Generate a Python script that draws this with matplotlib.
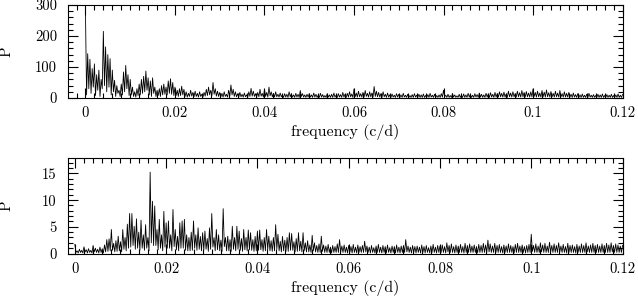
import numpy as np
import matplotlib
matplotlib.use("Agg")
import matplotlib.pyplot as plt
from matplotlib.ticker import MultipleLocator

freq_step = 0.00025

# Upper periodogram (P), one value per 0.00025 c/d, rows of 0.005 c/d
top_power = [
    280, 10, 143, 30, 125, 15, 95, 35, 110, 8, 75, 25, 90, 5, 60, 30, 215, 40, 165, 20,
    140, 35, 127, 10, 90, 20, 57, 5, 40, 15, 25, 5, 45, 10, 84, 20, 105, 30, 75, 8,
    60, 10, 35, 5, 20, 3, 30, 8, 45, 10, 60, 15, 70, 20, 87, 25, 65, 10, 55, 5,
    65, 15, 35, 5, 25, 8, 30, 5, 40, 10, 45, 12, 35, 10, 55, 15, 62, 12, 50, 8,
    35, 8, 25, 5, 30, 8, 38, 10, 28, 5, 20, 3, 15, 5, 25, 6, 18, 4, 22, 5,
    15, 3, 20, 5, 12, 3, 18, 6, 28, 8, 35, 10, 25, 8, 50, 12, 30, 6, 22, 5,
    18, 4, 15, 3, 20, 5, 12, 3, 25, 6, 42, 10, 28, 5, 20, 4, 14, 3, 18, 4,
    12, 3, 16, 4, 10, 2, 20, 5, 31, 6, 22, 5, 14, 3, 18, 4, 28, 6, 15, 3,
    28, 5, 18, 3, 35, 7, 20, 4, 15, 3, 20, 4, 12, 3, 16, 4, 10, 2, 14, 3,
    12, 2, 20, 4, 14, 3, 10, 2, 15, 3, 12, 2, 24, 5, 14, 3, 10, 2, 12, 3,
    14, 3, 10, 2, 16, 3, 12, 2, 9, 2, 15, 3, 11, 2, 8, 2, 13, 3, 10, 2,
    12, 2, 16, 3, 9, 2, 14, 3, 11, 2, 18, 3, 12, 2, 15, 3, 20, 4, 13, 2,
    29, 4, 16, 3, 22, 4, 14, 3, 18, 3, 24, 5, 15, 3, 20, 4, 16, 3, 37, 5,
    22, 4, 18, 3, 14, 2, 20, 4, 12, 2, 16, 3, 10, 2, 13, 3, 9, 2, 14, 3,
    12, 2, 10, 2, 15, 3, 9, 2, 12, 2, 8, 2, 11, 2, 14, 3, 9, 2, 12, 2,
    10, 2, 13, 2, 8, 2, 11, 2, 15, 3, 9, 2, 12, 2, 8, 2, 10, 2, 14, 3,
    25, 4, 9, 2, 12, 2, 8, 2, 14, 3, 10, 2, 7, 2, 12, 2, 9, 2, 13, 2,
    10, 2, 15, 3, 12, 2, 9, 2, 14, 3, 11, 2, 16, 3, 12, 2, 10, 2, 15, 3,
    13, 2, 17, 3, 12, 2, 18, 3, 14, 3, 20, 4, 15, 3, 19, 3, 13, 2, 22, 4,
    16, 3, 20, 4, 14, 3, 22, 4, 17, 3, 24, 4, 18, 3, 21, 4, 16, 3, 20, 4,
    29, 5, 18, 3, 22, 4, 16, 3, 24, 4, 19, 3, 26, 4, 17, 3, 21, 4, 15, 3,
    22, 4, 16, 3, 24, 4, 14, 3, 20, 3, 15, 3, 18, 3, 12, 2, 16, 3, 11, 2,
    14, 2, 10, 2, 13, 2, 9, 2, 12, 2, 15, 3, 9, 2, 11, 2, 8, 2, 12, 2,
    10, 2, 13, 2, 8, 2, 11, 2, 9, 2, 12, 2, 8, 2, 10, 2, 13, 2, 9, 2,
    11,
]

# Lower periodogram (P), same frequency grid
bottom_power = [
    1.7, 0.2, 0.5, 0.1, 0.8, 0.2, 0.6, 0.1, 1.25, 0.3, 0.7, 0.1, 0.9, 0.2, 0.6, 0.1, 1.5, 0.3, 1.0, 0.2,
    0.8, 0.1, 1.2, 0.2, 0.9, 0.1, 1.6, 0.3, 2.6, 0.4, 2.75, 0.5, 4.5, 0.6, 1.9, 0.3, 2.4, 0.4, 3.25, 0.5,
    2.2, 0.3, 4.5, 0.8, 3.0, 0.5, 5.5, 1.0, 7.5, 1.2, 7.5, 1.5, 5.1, 0.8, 6.5, 1.0, 4.0, 0.6, 6.25, 1.0,
    3.5, 0.6, 5.4, 1.0, 3.0, 0.5, 15.25, 2.0, 9.8, 1.5, 8.9, 1.5, 4.5, 0.7, 6.4, 1.0, 3.5, 0.5, 7.9, 1.2,
    5.75, 1.0, 6.1, 1.0, 3.5, 0.5, 8.25, 1.3, 4.5, 0.7, 3.2, 0.5, 5.75, 1.0, 6.1, 1.0, 6.4, 0.6, 3.5, 0.5,
    3.0, 0.5, 4.0, 0.6, 6.1, 1.0, 3.5, 0.6, 4.8, 0.8, 3.2, 0.5, 3.9, 0.6, 4.2, 0.8, 2.8, 0.4, 4.8, 0.8,
    7.5, 1.2, 3.0, 0.5, 4.5, 0.7, 3.5, 0.5, 2.5, 0.4, 8.4, 1.3, 3.0, 0.5, 3.25, 0.5, 2.6, 0.4, 5.1, 0.8,
    3.0, 0.5, 5.1, 0.8, 4.2, 0.6, 2.8, 0.4, 4.5, 0.7, 3.0, 0.5, 4.4, 0.7, 3.9, 0.6, 2.6, 0.4, 3.2, 0.5,
    4.2, 0.6, 4.4, 0.7, 2.6, 0.4, 3.0, 0.5, 4.5, 0.7, 3.25, 0.5, 2.4, 0.4, 3.0, 0.5, 5.4, 0.8, 3.6, 0.5,
    2.3, 0.3, 3.2, 0.5, 2.5, 0.4, 3.0, 0.4, 3.9, 0.6, 3.75, 0.6, 2.2, 0.3, 2.8, 0.4, 3.9, 0.5, 2.3, 0.3,
    3.9, 0.5, 2.0, 0.3, 2.4, 0.3, 1.6, 0.2, 3.4, 0.5, 2.0, 0.3, 1.5, 0.2, 1.8, 0.2, 3.25, 0.4, 1.6, 0.2,
    1.4, 0.2, 1.7, 0.2, 1.2, 0.1, 1.5, 0.2, 1.3, 0.2, 1.8, 0.2, 2.6, 0.3, 1.4, 0.2, 1.6, 0.2, 1.2, 0.1,
    1.5, 0.2, 1.3, 0.1, 1.7, 0.2, 1.2, 0.1, 1.6, 0.2, 1.3, 0.2, 1.5, 0.2, 2.3, 0.3, 1.4, 0.2, 1.2, 0.1,
    1.5, 0.2, 1.1, 0.1, 1.4, 0.2, 1.7, 0.2, 1.2, 0.1, 1.5, 0.2, 1.3, 0.1, 1.6, 0.2, 1.1, 0.1, 1.4, 0.2,
    1.3, 0.1, 1.6, 0.2, 1.2, 0.1, 1.4, 0.2, 1.5, 0.2, 2.6, 0.3, 1.4, 0.2, 1.2, 0.1, 1.5, 0.2, 1.3, 0.1,
    1.4, 0.2, 1.2, 0.1, 1.6, 0.2, 1.3, 0.1, 1.5, 0.2, 1.1, 0.1, 1.4, 0.2, 1.7, 0.2, 1.2, 0.1, 1.5, 0.2,
    1.4, 0.2, 1.6, 0.2, 1.3, 0.1, 2.0, 0.3, 1.5, 0.2, 1.8, 0.2, 1.3, 0.1, 1.6, 0.2, 1.4, 0.2, 1.7, 0.2,
    1.3, 0.1, 1.9, 0.2, 1.5, 0.2, 1.8, 0.2, 1.4, 0.2, 1.6, 0.2, 1.3, 0.1, 1.7, 0.2, 1.5, 0.2, 1.9, 0.2,
    1.6, 0.2, 2.5, 0.3, 1.8, 0.2, 1.4, 0.2, 1.9, 0.2, 1.5, 0.2, 1.7, 0.2, 1.3, 0.1, 1.6, 0.2, 1.4, 0.2,
    1.8, 0.2, 1.5, 0.2, 1.3, 0.1, 1.7, 0.2, 1.9, 0.2, 1.4, 0.2, 1.6, 0.2, 1.3, 0.1, 1.5, 0.2, 1.7, 0.2,
    3.6, 0.4, 1.5, 0.2, 1.8, 0.2, 1.4, 0.2, 2.0, 0.3, 1.6, 0.2, 1.9, 0.2, 1.4, 0.2, 2.1, 0.3, 1.5, 0.2,
    1.8, 0.2, 1.5, 0.2, 2.0, 0.3, 1.4, 0.2, 1.7, 0.2, 1.3, 0.1, 1.9, 0.2, 1.5, 0.2, 1.6, 0.2, 1.3, 0.1,
    1.7, 0.2, 1.4, 0.2, 1.8, 0.2, 1.5, 0.2, 2.0, 0.3, 1.4, 0.2, 1.6, 0.2, 1.9, 0.2, 1.5, 0.2, 1.7, 0.2,
    1.4, 0.2, 1.8, 0.2, 1.5, 0.2, 1.9, 0.2, 1.6, 0.2, 2.0, 0.3, 1.5, 0.2, 1.8, 0.2, 1.6, 0.2, 1.4, 0.2,
    1.5,
]

x_ticks = [0, 0.02, 0.04, 0.06, 0.08, 0.1, 0.12]
x_tick_labels = ["0", "0.02", "0.04", "0.06", "0.08", "0.1", "0.12"]
top_yticks = [0, 100, 200, 300]
bottom_yticks = [0, 5, 10, 15]
xlabel = "frequency (c/d)"
ylabel = "P"

plt.rcParams["font.family"] = ["cmr10", "DejaVu Serif"]
plt.rcParams["axes.formatter.use_mathtext"] = True

fig = plt.figure(figsize=(6.38, 3.0), dpi=100)
ax1 = fig.add_axes([68 / 638, 1 - 98 / 300, (623 - 68) / 638, 93 / 300])
ax2 = fig.add_axes([68 / 638, 1 - 253.5 / 300, (623 - 68) / 638, 95.5 / 300])

f_top = np.arange(len(top_power)) * freq_step
f_bot = np.arange(len(bottom_power)) * freq_step

ax1.plot(f_top, top_power, color="black", lw=0.6)
ax2.plot(f_bot, bottom_power, color="black", lw=0.6)

ax1.set_xlim(-0.0039, 0.1201)
ax1.set_ylim(0, 300)
ax2.set_xlim(-0.0015, 0.1201)
ax2.set_ylim(0, 17.9)

for ax, yt, ymin in ((ax1, top_yticks, 20), (ax2, bottom_yticks, 1)):
    ax.set_xticks(x_ticks)
    ax.set_xticklabels(x_tick_labels)
    ax.set_yticks(yt)
    ax.set_yticklabels([str(v) for v in yt])
    ax.xaxis.set_minor_locator(MultipleLocator(0.002))
    ax.yaxis.set_minor_locator(MultipleLocator(ymin))
    ax.tick_params(which="both", direction="in", top=True, right=True,
                   labelsize=10.5, width=0.8, color="black")
    ax.tick_params(which="major", length=7)
    ax.tick_params(which="minor", length=3.5)
    ax.tick_params(axis="x", pad=6)
    ax.tick_params(axis="y", pad=8)
    for s in ax.spines.values():
        s.set_linewidth(0.8)
    ax.set_xlabel(xlabel, fontsize=11.5, labelpad=3)

ax1.set_ylabel(ylabel, fontsize=11)
ax2.set_ylabel(ylabel, fontsize=11)
ax1.yaxis.set_label_coords(-0.098, 0.5)
ax2.yaxis.set_label_coords(-0.098, 0.5)

fig.savefig("out.png", dpi=100)
